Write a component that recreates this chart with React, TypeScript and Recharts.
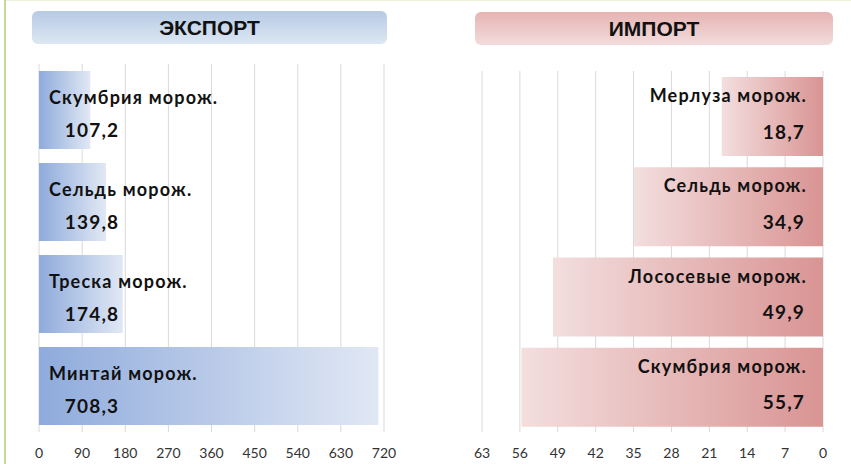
import React from 'react';
import { BarChart, Bar, XAxis, YAxis, CartesianGrid, LabelList } from 'recharts';

const exportCategories = ['Скумбрия морож.', 'Сельдь морож.', 'Треска морож.', 'Минтай морож.'];
const exportValues = [107.2, 139.8, 174.8, 708.3];
const exportTicks = [0, 90, 180, 270, 360, 450, 540, 630, 720];

const importCategories = ['Мерлуза морож.', 'Сельдь морож.', 'Лососевые морож.', 'Скумбрия морож.'];
const importValues = [18.7, 34.9, 49.9, 55.7];
const importTicks = [0, 7, 14, 21, 28, 35, 42, 49, 56, 63];

const exportData = exportCategories.map((name, i) => ({ name, value: exportValues[i] }));
const importData = importCategories.map((name, i) => ({ name, value: importValues[i] }));

const fmt = (v: number) => v.toFixed(1).replace('.', ',');

const LABEL_FONT = 'Lato, "Open Sans", sans-serif';

const ExportNameLabel = (props: any) => {
  const { x, y, value } = props;
  return (
    <text x={Number(x) + 10} y={Number(y) + 26} dominantBaseline="central" fontFamily={LABEL_FONT}
      fontWeight={700} fontSize={18} letterSpacing={1.2} fill="#111">{value}</text>
  );
};
const ExportValueLabel = (props: any) => {
  const { x, y, value } = props;
  return (
    <text x={Number(x) + 53} y={Number(y) + 58} dominantBaseline="central" textAnchor="middle" fontFamily={LABEL_FONT}
      fontWeight={700} fontSize={19} letterSpacing={1.2} fill="#111">{fmt(Number(value))}</text>
  );
};
const ImportNameLabel = (props: any) => {
  const { x, y, width, value } = props;
  const right = Math.max(Number(x), Number(x) + Number(width));
  return (
    <text x={right - 16} y={Number(y) + 18} dominantBaseline="central" textAnchor="end" fontFamily={LABEL_FONT}
      fontWeight={700} fontSize={18} letterSpacing={1.2} fill="#111">{value}</text>
  );
};
const ImportValueLabel = (props: any) => {
  const { x, y, width, value } = props;
  const right = Math.max(Number(x), Number(x) + Number(width));
  return (
    <text x={right - 18} y={Number(y) + 54} dominantBaseline="central" textAnchor="end" fontFamily={LABEL_FONT}
      fontWeight={700} fontSize={19} letterSpacing={1.2} fill="#111">{fmt(Number(value))}</text>
  );
};

const tickStyle = { fontFamily: LABEL_FONT, fontSize: 14, fill: '#333' };

const headerBase: React.CSSProperties = {
  position: 'absolute',
  height: 33,
  borderRadius: 6,
  display: 'flex',
  alignItems: 'center',
  justifyContent: 'center',
  fontFamily: '"Liberation Sans", Arial, sans-serif',
  fontWeight: 700,
  fontSize: 21,
  color: '#111',
};

export default function App() {
  return (
    <div style={{ position: 'absolute', left: 0, top: 0, width: 851, height: 464, background: '#fff', overflow: 'hidden' }}>
      <div style={{ position: 'absolute', left: 4, top: 0, width: 2, height: 464, background: '#c4d89e' }} />
      <div style={{ position: 'absolute', left: 6, top: 0, width: 845, height: 1, background: '#eaf1dc' }} />
      <div style={{ ...headerBase, left: 32, top: 11, width: 355, background: 'linear-gradient(#b6cae4, #dde7f3)' }}>ЭКСПОРТ</div>
      <div style={{ ...headerBase, left: 475, top: 12, width: 358, background: 'linear-gradient(#e5b4b3, #f3dcdc)' }}>ИМПОРТ</div>

      <div style={{ position: 'absolute', left: 0, top: 0 }}>
        <BarChart width={420} height={464} data={exportData} layout="vertical"
          margin={{ top: 64, right: 36, bottom: 12, left: 39 }}>
          <defs>
            <linearGradient id="expGrad" x1="0" y1="0" x2="1" y2="0">
              <stop offset="0%" stopColor="#8fabdc" />
              <stop offset="100%" stopColor="#e1e8f4" />
            </linearGradient>
          </defs>
          <CartesianGrid horizontal={false} stroke="#d9d9d9" />
          <XAxis type="number" domain={[0, 720]} ticks={exportTicks} interval={0} height={20}
            axisLine={false} tickLine={false} tickMargin={10} tick={tickStyle} />
          <YAxis type="category" dataKey="name" width={0} tick={false} tickLine={false}
            axisLine={{ stroke: '#b0b0b0' }} />
          <Bar dataKey="value" barSize={78} fill="url(#expGrad)" isAnimationActive={false}>
            <LabelList dataKey="name" content={ExportNameLabel} />
            <LabelList dataKey="value" content={ExportValueLabel} />
          </Bar>
        </BarChart>
      </div>

      <div style={{ position: 'absolute', left: 430, top: 0 }}>
        <BarChart width={421} height={464} data={importData} layout="vertical"
          margin={{ top: 71, right: 28, bottom: 12, left: 52 }}>
          <defs>
            <linearGradient id="impGrad" x1="0" y1="0" x2="1" y2="0">
              <stop offset="0%" stopColor="#f3dede" />
              <stop offset="100%" stopColor="#d99493" />
            </linearGradient>
          </defs>
          <CartesianGrid horizontal={false} stroke="#d9d9d9" />
          <XAxis type="number" domain={[0, 63]} ticks={importTicks} interval={0} reversed height={20}
            axisLine={false} tickLine={false} tickMargin={10} tick={tickStyle} />
          <YAxis type="category" dataKey="name" orientation="right" width={0} tick={false} tickLine={false}
            axisLine={{ stroke: '#b0b0b0' }} />
          <Bar dataKey="value" barSize={79} fill="url(#impGrad)" isAnimationActive={false}>
            <LabelList dataKey="name" content={ImportNameLabel} />
            <LabelList dataKey="value" content={ImportValueLabel} />
          </Bar>
        </BarChart>
      </div>
    </div>
  );
}
